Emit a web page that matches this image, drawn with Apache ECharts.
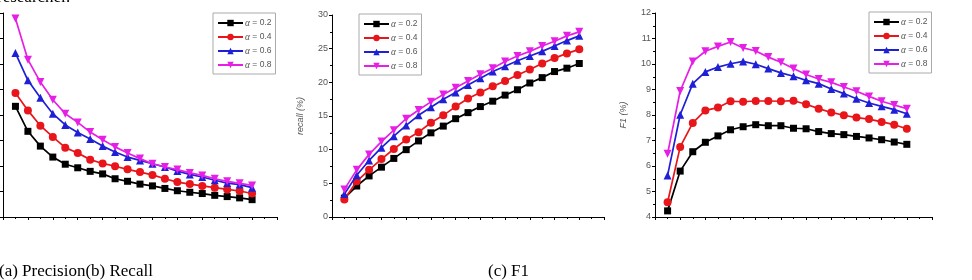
<!DOCTYPE html>
<html>
<head>
<meta charset="utf-8">
<script src="https://cdn.jsdelivr.net/npm/echarts@6/dist/echarts.min.js"></script>
<style>
	html, body { margin: 0; padding: 0; background: #fff; }
	#chart { width: 972px; height: 280px; }
</style>
</head>
<body>
<div id="chart"></div>
<script>
var xs = [1, 2, 3, 4, 5, 6, 7, 8, 9, 10, 11, 12, 13, 14, 15, 16, 17, 18, 19, 20];
var alphas = ["0.2", "0.4", "0.6", "0.8"];

// (a) precision - tick labels are cut off in the source, values on a 0..8 scale
var precision02 = [4.34, 3.36, 2.78, 2.35, 2.07, 1.93, 1.79, 1.69, 1.50, 1.40, 1.29, 1.22, 1.12, 1.03, 0.97, 0.92, 0.85, 0.80, 0.75, 0.68];
var precision04 = [4.86, 4.18, 3.58, 3.14, 2.72, 2.51, 2.25, 2.10, 1.99, 1.87, 1.76, 1.65, 1.50, 1.37, 1.29, 1.22, 1.15, 1.08, 1.02, 0.92];
var precision06 = [6.43, 5.36, 4.68, 4.05, 3.61, 3.31, 3.06, 2.78, 2.55, 2.35, 2.22, 2.09, 1.96, 1.80, 1.67, 1.57, 1.44, 1.33, 1.27, 1.15];
var precision08 = [7.78, 6.17, 5.29, 4.60, 4.05, 3.71, 3.33, 3.03, 2.75, 2.51, 2.29, 2.09, 1.96, 1.86, 1.73, 1.63, 1.50, 1.40, 1.32, 1.24];

// (b) recall (%)
var recall02 = [2.8, 4.6, 6.1, 7.4, 8.7, 10.0, 11.3, 12.5, 13.5, 14.6, 15.5, 16.4, 17.2, 18.1, 18.9, 19.9, 20.7, 21.6, 22.1, 22.8];
var recall04 = [2.6, 5.3, 7.0, 8.6, 10.1, 11.5, 12.6, 14.0, 15.1, 16.4, 17.6, 18.5, 19.4, 20.2, 21.1, 21.9, 22.8, 23.6, 24.3, 24.9];
var recall06 = [3.4, 6.2, 8.4, 10.3, 12.0, 13.6, 15.1, 16.3, 17.5, 18.5, 19.6, 20.6, 21.6, 22.4, 23.2, 23.9, 24.6, 25.4, 26.2, 26.9];
var recall08 = [4.1, 7.0, 9.3, 11.2, 12.9, 14.6, 15.9, 17.1, 18.2, 19.2, 20.2, 21.2, 22.1, 23.1, 23.9, 24.6, 25.4, 26.1, 26.9, 27.5];

// (c) F1 (%)
var f102 = [4.24, 5.80, 6.56, 6.93, 7.18, 7.42, 7.54, 7.62, 7.58, 7.58, 7.48, 7.46, 7.35, 7.27, 7.23, 7.16, 7.10, 7.03, 6.94, 6.85];
var f104 = [4.58, 6.75, 7.69, 8.18, 8.29, 8.54, 8.52, 8.55, 8.55, 8.54, 8.56, 8.42, 8.25, 8.10, 7.99, 7.90, 7.84, 7.73, 7.62, 7.46];
var f106 = [5.63, 8.01, 9.23, 9.69, 9.88, 10.01, 10.10, 9.99, 9.82, 9.65, 9.52, 9.36, 9.23, 9.02, 8.84, 8.64, 8.47, 8.34, 8.21, 8.05];
var f108 = [6.48, 8.94, 10.10, 10.50, 10.69, 10.86, 10.63, 10.51, 10.27, 10.07, 9.82, 9.59, 9.41, 9.28, 9.10, 8.93, 8.73, 8.54, 8.39, 8.25];

var colors = ["#000000", "#e8151b", "#1f1fd6", "#e51fe5"];
var symbols = ["rect", "circle", "triangle", "triangle"];
var rotations = [0, 0, 0, 180];

var panels = [
	{ grid: { left: 3, top: 13, width: 274, height: 204 }, ymin: 0, ymax: 8, interval: 1, minor: false, labels: false, name: "", values: [precision02, precision04, precision06, precision08], legend: { left: 213, top: 13 } },
	{ grid: { left: 332, top: 15, width: 272, height: 202 }, ymin: 0, ymax: 30, interval: 5, minor: true, labels: true, name: "recall (%)", values: [recall02, recall04, recall06, recall08], legend: { left: 359, top: 14 } },
	{ grid: { left: 655, top: 13, width: 277, height: 204 }, ymin: 4, ymax: 12, interval: 1, minor: true, labels: true, name: "F1 (%)", values: [f102, f104, f106, f108], legend: { left: 869, top: 12 } }
];

var axisLine = { lineStyle: { color: "#000", width: 1 } };
var labelStyle = { color: "#555", fontSize: 9, fontFamily: "Liberation Sans", margin: 4 };

var grids = [], xAxes = [], yAxes = [], legends = [], series = [];
panels.forEach(function(p, k) {
	grids.push(p.grid);
	xAxes.push({
		type: "value", gridIndex: k, min: 0, max: 22, interval: 2,
		axisLine: axisLine,
		axisTick: { show: true, length: 3, lineStyle: { color: "#000" } },
		minorTick: { show: true, splitNumber: 2, length: 2, lineStyle: { color: "#000" } },
		axisLabel: { show: false },
		splitLine: { show: false }
	});
	yAxes.push({
		type: "value", gridIndex: k, min: p.ymin, max: p.ymax, interval: p.interval,
		name: p.name, nameLocation: "middle", nameRotate: 90, nameGap: 27,
		nameTextStyle: { color: "#555", fontSize: 9, fontStyle: "italic", fontFamily: "Liberation Sans" },
		axisLine: Object.assign({ show: true }, axisLine),
		axisTick: { show: true, length: 3, lineStyle: { color: "#000" } },
		minorTick: { show: p.minor, splitNumber: 2, length: 2, lineStyle: { color: "#000" } },
		axisLabel: Object.assign({ show: p.labels }, labelStyle),
		splitLine: { show: false }
	});
	legends.push({
		left: p.legend.left, top: p.legend.top, orient: "vertical",
		data: alphas.map(function(a) { return "α = " + a; }),
		itemWidth: 25, itemHeight: 8, itemGap: 4,
		padding: [5, 4, 4, 4],
		borderColor: "#aaa", borderWidth: 1, borderRadius: 0,
		selectedMode: false,
		formatter: function(name) { return "{a|α}" + name.slice(1); },
		textStyle: {
			color: "#555", fontSize: 8.5, fontFamily: "Liberation Sans", padding: [0, 0, 0, -3],
			rich: { a: { fontStyle: "italic", fontFamily: "Liberation Serif", fontSize: 9.5, color: "#555" } }
		}
	});
	p.values.forEach(function(vals, i) {
		series.push({
			type: "line", name: "α = " + alphas[i], xAxisIndex: k, yAxisIndex: k,
			data: xs.map(function(x, j) { return [x, vals[j]]; }),
			symbol: symbols[i], symbolRotate: rotations[i],
			symbolSize: i === 0 ? 7 : 8,
			color: colors[i],
			lineStyle: { width: 1.7, color: colors[i] },
			itemStyle: { color: colors[i] },
			animation: false, z: 2 + i
		});
	});
});

var chart = echarts.init(document.getElementById("chart"), null, { renderer: "canvas" });
chart.setOption({
	animation: false,
	grid: grids,
	xAxis: xAxes,
	yAxis: yAxes,
	legend: legends,
	series: series,
	graphic: [
		{ type: "text", left: -3, top: -11, style: { text: "researcher.", font: "17px 'Liberation Serif'", fill: "#000" } },
		{ type: "text", left: -1, top: 263, style: { text: "(a) Precision(b) Recall", font: "17px 'Liberation Serif'", fill: "#000" } },
		{ type: "text", left: 488, top: 263, style: { text: "(c) F1", font: "17px 'Liberation Serif'", fill: "#000" } }
	]
});
</script>
</body>
</html>
